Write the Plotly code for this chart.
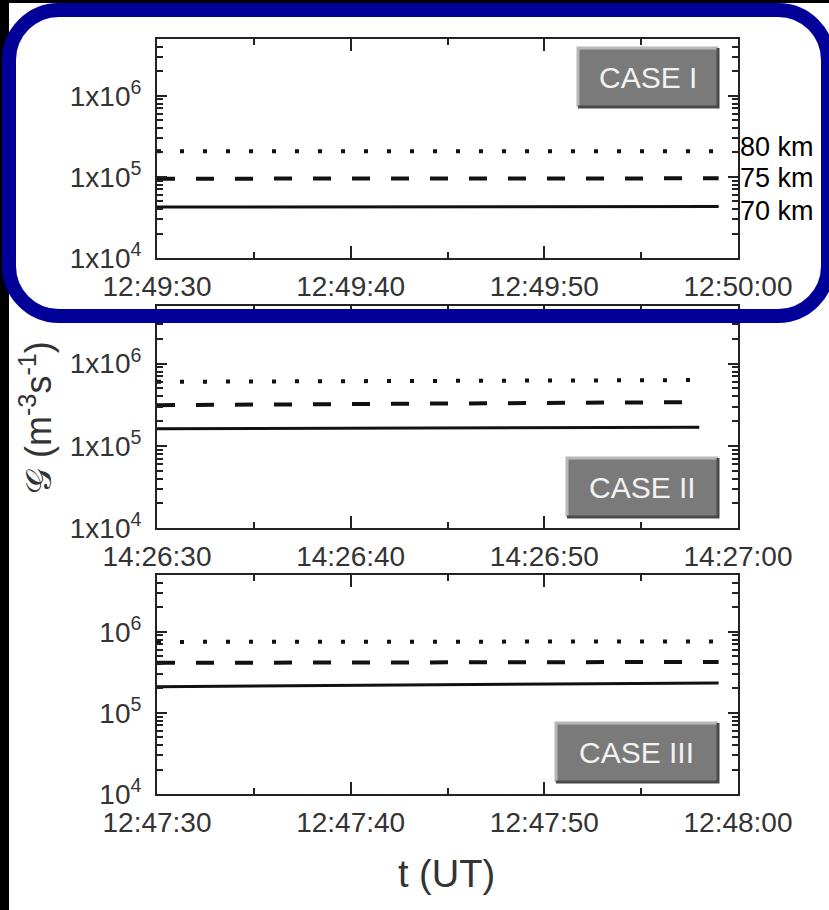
import math
import plotly.graph_objects as go
from plotly.subplots import make_subplots

# ---------------- data ----------------
DAY = "2010-01-01 "
case_names = ["CASE I", "CASE II", "CASE III"]
altitudes = ["80 km", "75 km", "70 km"]

case1_t = ["12:49:30", "12:49:45", "12:49:59"]
case1_80 = [2.07e5, 2.07e5, 2.07e5]
case1_75 = [9.5e4, 9.5e4, 9.6e4]
case1_70 = [4.25e4, 4.25e4, 4.3e4]

case2_t = ["14:26:30", "14:26:44", "14:26:58"]
case2_80 = [6.0e5, 6.1e5, 6.3e5]
case2_75 = [3.12e5, 3.25e5, 3.4e5]
case2_70 = [1.61e5, 1.64e5, 1.68e5]

case3_t = ["12:47:30", "12:47:45", "12:47:59"]
case3_80 = [7.5e5, 7.5e5, 7.6e5]
case3_75 = [4.14e5, 4.2e5, 4.25e5]
case3_70 = [2.1e5, 2.2e5, 2.34e5]

x_ranges = [("12:49:30", "12:50:00"), ("14:26:30", "14:27:00"), ("12:47:30", "12:48:00")]
major_y = [1e4, 1e5, 1e6]
ytext_1x = ["1x10<sup>4</sup>", "1x10<sup>5</sup>", "1x10<sup>6</sup>"]
ytext_plain = ["10<sup>4</sup>", "10<sup>5</sup>", "10<sup>6</sup>"]
y_log_range = [4, 6.7]

# ---------------- layout helpers ----------------
W, H = 829, 910
def px(x):
    return x / W
def py(y):
    return 1 - y / H

x_dom = [px(157), px(738)]
y_doms = [[py(258), py(39)], [py(528), py(306)], [py(794), py(575)]]

FONT = "Liberation Sans, Arial, sans-serif"
AXC = "#222222"
TXC = "#333333"

fig = make_subplots(rows=3, cols=1)

cases = [
    (case1_t, case1_80, case1_75, case1_70),
    (case2_t, case2_80, case2_75, case2_70),
    (case3_t, case3_80, case3_75, case3_70),
]
styles = [
    dict(color="#111111", width=4, dash="4px,19px"),
    dict(color="#111111", width=4, dash="18px,21px"),
    dict(color="#111111", width=3),
]

minor_vals = [m * 10 ** d for d in (4, 5, 6) for m in range(2, 10) if m * 10 ** d <= 5.1e6]

for i, (t, s80, s75, s70) in enumerate(cases):
    xs = [DAY + v for v in t]
    for ser, st, name in zip((s80, s75, s70), styles, altitudes):
        fig.add_trace(go.Scatter(x=xs, y=ser, mode="lines", line=st, name=name,
                                 showlegend=False, hoverinfo="skip"), row=i + 1, col=1)

for i in range(3):
    ax = "" if i == 0 else str(i + 1)
    fig.layout["xaxis" + ax].update(
        domain=x_dom, type="date",
        range=[DAY + x_ranges[i][0], DAY + x_ranges[i][1]],
        tick0=DAY + x_ranges[i][0], dtick=10000, tickformat="%H:%M:%S",
        ticks="inside", ticklen=12, tickwidth=1.5, tickcolor=AXC,
        minor=dict(dtick=5000, ticks="inside", ticklen=6, tickwidth=1.5, tickcolor=AXC, showgrid=False),
        showline=True, linecolor=AXC, linewidth=2, mirror="ticks",
        showgrid=False, zeroline=False,
        tickfont=dict(family=FONT, size=28, color=TXC),
        ticklabelstandoff=2,
    )
    fig.layout["yaxis" + ax].update(
        domain=y_doms[i], type="log", range=y_log_range,
        tickvals=major_y, ticktext=ytext_plain if i == 2 else ytext_1x,
        ticks="inside", ticklen=10, tickwidth=1.5, tickcolor=AXC,
        minor=dict(tickvals=minor_vals, ticks="inside", ticklen=6, tickwidth=1.5, tickcolor=AXC, showgrid=False),
        showline=True, linecolor=AXC, linewidth=2, mirror="ticks",
        showgrid=False, zeroline=False,
        tickfont=dict(family=FONT, size=28, color=TXC),
        ticklabelstandoff=8,
    )

shapes = []
annotations = []

# black frame strips (from the original image)
shapes.append(dict(type="rect", xref="paper", yref="paper", x0=0, x1=px(9), y0=0, y1=1,
                   fillcolor="black", line=dict(width=0), layer="above"))
shapes.append(dict(type="rect", xref="paper", yref="paper", x0=0, x1=1, y0=py(3), y1=1,
                   fillcolor="black", line=dict(width=0), layer="above"))

# rounded blue highlight around top panel
L, R, T, B, r = 9, 828, 10, 316, 50
k = 0.5523 * r
def P(x, y):
    return f"{px(x):.5f},{py(y):.5f}"
path = (f"M {P(L + r, T)} L {P(R - r, T)} C {P(R - r + k, T)} {P(R, T + r - k)} {P(R, T + r)} "
        f"L {P(R, B - r)} C {P(R, B - r + k)} {P(R - r + k, B)} {P(R - r, B)} "
        f"L {P(L + r, B)} C {P(L + r - k, B)} {P(L, B - r + k)} {P(L, B - r)} "
        f"L {P(L, T + r)} C {P(L, T + r - k)} {P(L + r - k, T)} {P(L + r, T)} Z")
shapes.append(dict(type="path", xref="paper", yref="paper", path=path,
                   line=dict(color="#000099", width=14), fillcolor="rgba(0,0,0,0)", layer="above"))

# CASE boxes (axis-domain coordinates)
boxes = [
    (0.7246, 0.9656, 0.6895, 0.9589),
    (0.7057, 0.9656, 0.0495, 0.3153),
    (0.6867, 0.9656, 0.0548, 0.3242),
]
for i, (bx0, bx1, by0, by1) in enumerate(boxes):
    ax = "" if i == 0 else str(i + 1)
    xr, yr = "x" + ax + " domain", "y" + ax + " domain"
    shapes.append(dict(type="rect", xref=xr, yref=yr, x0=bx0, x1=bx1, y0=by0, y1=by1,
                       fillcolor="#7a7a7a", line=dict(width=0), layer="above"))
    shapes.append(dict(type="path", xref=xr, yref=yr,
                       path=f"M {bx0},{by0} L {bx0},{by1} L {bx1},{by1}",
                       line=dict(color="#b8b8b8", width=3), layer="above"))
    shapes.append(dict(type="path", xref=xr, yref=yr,
                       path=f"M {bx0},{by0} L {bx1},{by0} L {bx1},{by1}",
                       line=dict(color="#4a4a4a", width=3), layer="above"))
    annotations.append(dict(xref=xr, yref=yr, x=(bx0 + bx1) / 2, y=(by0 + by1) / 2,
                            text=case_names[i], showarrow=False,
                            font=dict(family=FONT, size=30, color="#f2f2f2"),
                            xanchor="center", yanchor="middle"))

# altitude labels on top panel
for name, ser, dy in zip(altitudes, (case1_80, case1_75, case1_70), (4, 0, -4)):
    annotations.append(dict(xref="x domain", yref="y", x=1.0, y=math.log10(ser[-1]),
                            text=name, showarrow=False, xanchor="left", yanchor="middle",
                            yshift=dy, height=30,
                            font=dict(family=FONT, size=27, color="#000000")))

# axis titles
annotations.append(dict(xref="paper", yref="paper", x=px(36), y=py(418),
                        text="𝒢 (m<sup>-3</sup>s<sup>-1</sup>)", textangle=-90, showarrow=False,
                        xanchor="center", yanchor="middle",
                        font=dict(family=FONT, size=36, color=TXC)))
annotations.append(dict(xref="paper", yref="paper", x=px(447), y=py(874),
                        text="t (UT)", showarrow=False, xanchor="center", yanchor="middle",
                        font=dict(family=FONT, size=38, color=TXC)))

fig.update_layout(
    width=W, height=H, margin=dict(l=0, r=0, t=0, b=0, pad=0, autoexpand=False),
    paper_bgcolor="white", plot_bgcolor="white",
    shapes=shapes, annotations=annotations, showlegend=False,
)

fig.write_html("out.html", config={"displayModeBar": False},
               post_script="document.body.style.margin='0px';document.body.style.overflow='hidden';")
